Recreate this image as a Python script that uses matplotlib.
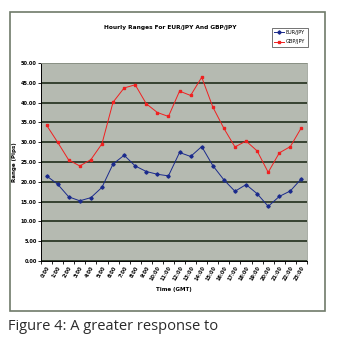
import matplotlib
matplotlib.use("Agg")
import matplotlib.pyplot as plt
from matplotlib.patches import Rectangle
import numpy as np

hours = ["%d:00" % h for h in range(24)]
eurjpy = [21.5, 19.4, 16.2, 15.2, 16.0, 18.6, 24.5, 26.7, 24.0, 22.6, 21.9, 21.5,
          27.4, 26.4, 28.9, 24.1, 20.5, 17.6, 19.3, 17.0, 13.8, 16.3, 17.7, 20.8]
gbpjpy = [34.3, 30.0, 25.5, 24.0, 25.6, 29.6, 40.1, 43.7, 44.5, 39.7, 37.5, 36.5,
          42.9, 41.8, 46.4, 38.9, 33.5, 28.8, 30.3, 27.8, 22.4, 27.3, 28.9, 33.7]
yticks = np.arange(0, 50.01, 5)

fig = plt.figure(figsize=(3.41, 3.41), dpi=100)
fig.patch.set_facecolor("white")

# outer chart frame
fig.patches.append(Rectangle((10 / 341, 1 - 311 / 341), 315 / 341, 299 / 341,
                             transform=fig.transFigure, fill=False,
                             edgecolor="#6f7a6a", linewidth=1.2))

ax = fig.add_axes([41 / 341, 1 - 261 / 341, 266 / 341, 198 / 341])
ax.set_facecolor("#b5bab1")

x = np.arange(len(hours))
ax.plot(x, eurjpy, color="#1a2a8c", linewidth=0.7, marker="D", markersize=1.7,
        label="EUR/JPY")
ax.plot(x, gbpjpy, color="#f02020", linewidth=0.7, marker="s", markersize=1.7,
        label="GBP/JPY")

ax.set_xlim(-0.5, len(hours) - 0.5)
ax.set_ylim(0, 50)
ax.set_yticks(yticks)
ax.set_yticklabels(["%.2f" % v for v in yticks], fontsize=3.6, fontweight="bold")
ax.yaxis.grid(True, color="#14220f", linewidth=1.1)
ax.set_axisbelow(True)

ax.set_xticks(x)
ax.set_xticklabels(hours, rotation=60, fontsize=3.6, fontweight="bold",
                   ha="right", rotation_mode="anchor")
ax.tick_params(axis="x", which="major", length=0, pad=3)
ax.set_xticks(np.arange(-0.5, len(hours), 1), minor=True)
ax.tick_params(axis="x", which="minor", length=2.5, width=0.6, direction="out")
ax.tick_params(axis="y", length=2, width=0.6, pad=1)

for side in ["top", "right"]:
    ax.spines[side].set_color("#9aa096")
    ax.spines[side].set_linewidth(0.6)
ax.spines["left"].set_linewidth(0.7)
ax.spines["bottom"].set_linewidth(0.7)

ax.set_xlabel("Time (GMT)", fontsize=4, fontweight="bold", labelpad=4)
ax.set_ylabel("Range (Pips)", fontsize=4, fontweight="bold", labelpad=3)

fig.text(170 / 341, 1 - 27 / 341, "Hourly Ranges For EUR/JPY And GBP/JPY",
         ha="center", va="center", fontsize=4.2, fontweight="bold")

leg = fig.legend(loc="upper left", bbox_to_anchor=(269 / 341, 1 - 25 / 341),
                 fontsize=3.6, frameon=True, fancybox=False, handlelength=2,
                 borderpad=0.5, labelspacing=0.9, handletextpad=0.4)
leg.get_frame().set_edgecolor("#333333")
leg.get_frame().set_linewidth(0.6)

fig.text(8 / 341, 1 - 326 / 341, "Figure 4: A greater response to",
         ha="left", va="center", fontsize=10.5, color="#2a2a2a",
         family="Open Sans")

fig.savefig("out.png", dpi=100)
